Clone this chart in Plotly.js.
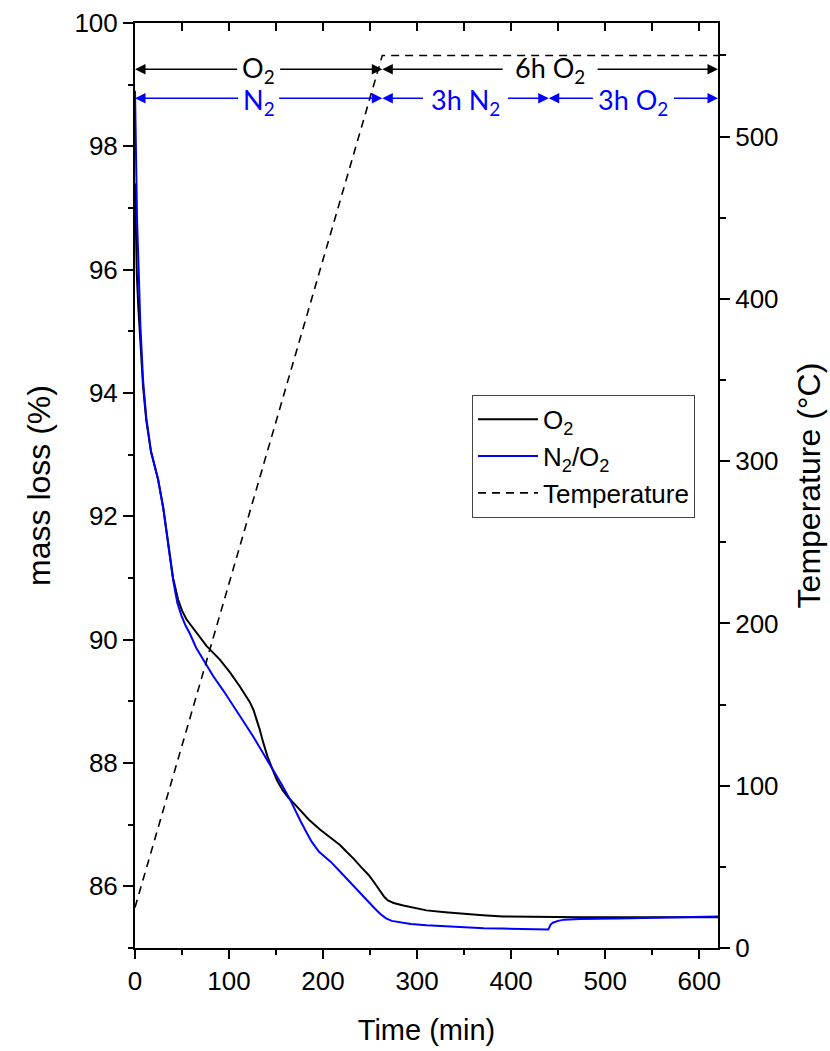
<!DOCTYPE html>
<html>
<head>
<meta charset="utf-8">
<script src="https://cdn.plot.ly/plotly-3.0.1.min.js"></script>
<style>
html,body{margin:0;padding:0;background:#fff;}
#chart{width:830px;height:1051px;}
</style>
</head>
<body>
<div id="chart"></div>
<script>
// ---- data ----
var timeO2 = [0, 1, 2, 3.5, 5.7, 8.6, 12, 17, 24.5, 30, 35, 40.5, 45.8, 50, 54.7, 62, 69, 76, 90, 101, 111.5, 118.7, 122, 126, 129.3, 132.5, 136.4, 141, 147, 151, 157, 163, 170, 175.4, 185, 196.7, 205, 212, 218, 225, 232.4, 240, 248.7, 255, 261, 265, 269, 275, 285.4, 300, 310, 330, 350.6, 370, 391.4, 432, 473, 520, 570, 620];
var massO2 = [97.4, 96.5, 95.9, 95.4, 94.8, 94.1, 93.55, 93.05, 92.6, 92.15, 91.6, 91.0, 90.65, 90.47, 90.33, 90.18, 90.05, 89.9, 89.68, 89.47, 89.24, 89.08, 88.99, 88.86, 88.72, 88.55, 88.33, 88.1, 87.87, 87.72, 87.56, 87.44, 87.33, 87.24, 87.08, 86.92, 86.82, 86.74, 86.67, 86.56, 86.45, 86.32, 86.18, 86.05, 85.91, 85.83, 85.77, 85.73, 85.69, 85.64, 85.61, 85.58, 85.55, 85.53, 85.51, 85.5, 85.5, 85.5, 85.5, 85.5];

var timeN2O2 = [0, 0.5, 1, 1.5, 2.2, 3.9, 5.7, 8.6, 12, 17, 24.5, 30, 35.2, 40.5, 45, 49.4, 54, 58.3, 65, 72.5, 83.1, 95, 104.4, 115, 125.7, 136, 147, 156, 164.8, 170, 176, 182.6, 188, 195.7, 203.9, 208, 218, 228.3, 238, 248.7, 255, 261, 267, 273, 283, 293.5, 310, 330, 350, 371, 392, 411.7, 425, 439.5, 440.5, 442, 444.4, 450, 456.6, 473, 513.6, 554, 590, 620];
var massN2O2 = [98.9, 98.3, 97.9, 97.4, 96.8, 96.0, 95.1, 94.2, 93.6, 93.05, 92.6, 92.13, 91.55, 90.97, 90.6, 90.39, 90.22, 90.1, 89.87, 89.67, 89.41, 89.15, 88.92, 88.68, 88.43, 88.17, 87.89, 87.65, 87.41, 87.24, 87.06, 86.87, 86.72, 86.56, 86.46, 86.4, 86.24, 86.07, 85.91, 85.74, 85.64, 85.55, 85.48, 85.44, 85.41, 85.39, 85.37, 85.35, 85.33, 85.32, 85.315, 85.31, 85.305, 85.3, 85.33, 85.38, 85.41, 85.44, 85.46, 85.47, 85.48, 85.49, 85.5, 85.51];

var tempTime = [0, 263, 620];
var tempVals = [25, 550, 550];

var legendNames = ['O<sub>2</sub>', 'N<sub>2</sub>/O<sub>2</sub>', 'Temperature'];

// gas-atmosphere phases drawn as labelled double arrows
var phaseTopBounds = [0, 263, 620];
var phaseTopLabels = ['O<sub>2</sub>', '6h O<sub>2</sub>'];
var phaseBotBounds = [0, 263, 440, 620];
var phaseBotLabels = ['N<sub>2</sub>', '3h N<sub>2</sub>', '3h O<sub>2</sub>'];
var phaseTopLevel = 99.25;
var phaseBotLevel = 98.78;

// ---- styling ----
var AX = 'Liberation Sans, Arial, sans-serif';
var LBL = 'Lato, Open Sans, sans-serif';
var BLUE = '#0000ff';
var PX_PER_MIN = (830 - 135 - 112) / 620;
var topGapPx = [20, 46];      // half-width of the text gap in each arrow, px
var botGapPx = [19, 41, 39];

var traces = [
  {x: timeO2, y: massO2, type: 'scatter', mode: 'lines', name: legendNames[0],
   line: {color: '#000000', width: 2}, xaxis: 'x', yaxis: 'y', legendgroup: 'a'},
  {x: timeN2O2, y: massN2O2, type: 'scatter', mode: 'lines', name: legendNames[1],
   line: {color: BLUE, width: 2}, xaxis: 'x', yaxis: 'y', legendgroup: 'b'},
  {x: tempTime, y: tempVals, type: 'scatter', mode: 'lines', name: legendNames[2],
   line: {color: '#000000', width: 1.6, dash: '8px,6px'}, xaxis: 'x', yaxis: 'y2', legendgroup: 'c'},
  {x: [], y: [], type: 'scatter', mode: 'lines', xaxis: 'x2', yaxis: 'y', showlegend: false, hoverinfo: 'skip'}
];

var annotations = [];
function addPhase(bounds, labels, gaps, level, color, shift) {
  for (var i = 0; i < labels.length; i++) {
    var c = (bounds[i] + bounds[i + 1]) / 2;
    var g = gaps[i] / PX_PER_MIN;
    var common = {y: level, ay: level, xref: 'x', yref: 'y', axref: 'x', ayref: 'y',
      text: '', showarrow: true, arrowhead: 2, arrowsize: 1.5, arrowwidth: 1.4,
      arrowcolor: color, standoff: 0, startstandoff: 0};
    annotations.push(Object.assign({x: bounds[i], ax: c - g}, common));
    annotations.push(Object.assign({x: bounds[i + 1], ax: c + g}, common));
    annotations.push({
      x: c, y: level, xref: 'x', yref: 'y', text: labels[i], showarrow: false,
      xanchor: 'center', yanchor: 'middle', yshift: shift, borderpad: 0,
      font: {family: LBL, size: 27, color: color}
    });
  }
}
addPhase(phaseBotBounds, phaseBotLabels, botGapPx, phaseBotLevel, BLUE, -3);
addPhase(phaseTopBounds, phaseTopLabels, topGapPx, phaseTopLevel, '#000000', 0);

var tickFont = {family: AX, size: 26, color: '#000'};
var xTitleFont = {family: AX, size: 29, color: '#000'};
var yTitleFont = {family: AX, size: 32, color: '#000'};

var layout = {
  width: 830, height: 1051,
  margin: {l: 135, r: 112, t: 23, b: 103},
  paper_bgcolor: '#fff', plot_bgcolor: '#fff',
  showlegend: true,
  legend: {x: 0.578, y: 0.598, xanchor: 'left', yanchor: 'top',
    bgcolor: '#fff', bordercolor: '#444', borderwidth: 1,
    font: {family: AX, size: 26, color: '#000'}, itemwidth: 60,
    tracegroupgap: 3, traceorder: 'normal'},
  xaxis: {range: [0, 620], showgrid: false, zeroline: false,
    showline: true, linecolor: '#000', linewidth: 2,
    ticks: 'outside', ticklen: 9, tickwidth: 2, tickcolor: '#000',
    tick0: 0, dtick: 100, tickfont: tickFont,
    minor: {dtick: 50, ticks: 'outside', ticklen: 5, tickwidth: 2, tickcolor: '#000', showgrid: false},
    title: {text: 'Time (min)', font: xTitleFont, standoff: 24}},
  xaxis2: {range: [0, 620], overlaying: 'x', side: 'top', anchor: 'y',
    showgrid: false, zeroline: false, showline: true, linecolor: '#000', linewidth: 2,
    ticks: 'inside', ticklen: 8, tickwidth: 2, tickcolor: '#000',
    tick0: 0, dtick: 50, showticklabels: false},
  yaxis: {range: [85, 100], showgrid: false, zeroline: false,
    showline: true, linecolor: '#000', linewidth: 2,
    ticks: 'outside', ticklen: 10, tickwidth: 2, tickcolor: '#000',
    tick0: 0, dtick: 2, tickfont: tickFont,
    minor: {dtick: 1, ticks: 'outside', ticklen: 5, tickwidth: 2, tickcolor: '#000', showgrid: false},
    title: {text: 'mass loss (%)', font: yTitleFont, standoff: 14}},
  yaxis2: {range: [0, 570], overlaying: 'y', side: 'right', anchor: 'x',
    showgrid: false, zeroline: false, showline: true, linecolor: '#000', linewidth: 2,
    ticks: 'outside', ticklen: 10, tickwidth: 2, tickcolor: '#000',
    tick0: 0, dtick: 100, tickfont: tickFont,
    minor: {dtick: 50, ticks: 'outside', ticklen: 6, tickwidth: 2, tickcolor: '#000', showgrid: false},
    title: {text: 'Temperature (°C)', font: yTitleFont, standoff: 20}},
  annotations: annotations
};

Plotly.newPlot('chart', traces, layout, {displayModeBar: false, staticPlot: true});
</script>
</body>
</html>
